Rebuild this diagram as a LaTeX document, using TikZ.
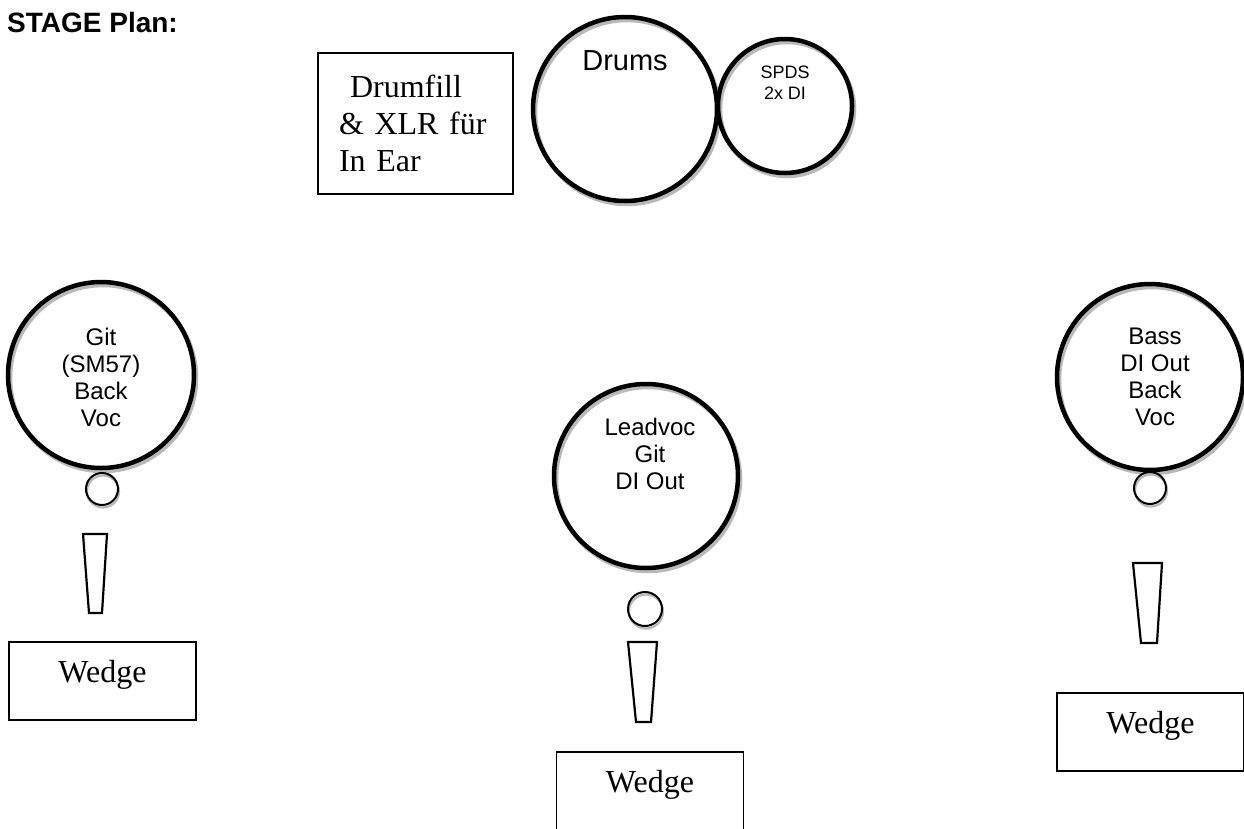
\documentclass[tikz,border=0pt]{standalone}
\usepackage{fontspec}
\setmainfont{Liberation Serif}
\newfontfamily\arialfont{Liberation Sans}
\begin{document}
\begin{tikzpicture}[x=1pt,y=-1pt,
  ring/.style={circle, draw=black, line width=4.5pt, inner sep=0pt},
  ringshadow/.style={draw=gray!55, line width=4.5pt},
  mic/.style={circle, draw=black, line width=2pt, inner sep=0pt},
  micshadow/.style={draw=gray!55, line width=2.2pt},
  stand/.style={draw=black, line width=2.2pt, line join=miter},
  wedgebox/.style={draw=black, line width=1.6pt, minimum width=187pt, minimum height=78pt, inner sep=0pt, font=\fontsize{32}{37}\selectfont, text height=22pt, text depth=20pt},
  circtext/.style={font=\arialfont\fontsize{24}{27}\selectfont, align=center, inner sep=0pt},
]
\useasboundingbox (0,0) rectangle (1244,828);
\clip (0,0) rectangle (1244,828);

% title
\node[anchor=base west, inner sep=0pt, font=\arialfont\bfseries\fontsize{28}{32}\selectfont] (title) at (7,32) {STAGE Plan:};

% drumfill box
\node[draw=black, line width=1.6pt, minimum height=141pt, text width=153pt, align=left, inner xsep=21pt, inner ysep=0pt, font=\fontsize{32}{37}\selectfont] (fill) at (415.5,123.5) {\hspace*{11pt}Drumfill\\\& XLR für\\In Ear};

% drums
\coordinate (cdrums) at (625,109);
\draw[ringshadow] (cdrums) ++(2,3) circle[radius=92];
\node[ring, minimum size=184pt, label={[circtext, font=\arialfont\fontsize{29}{33}\selectfont, yshift=48pt]center:Drums}] (drums) at (cdrums) {};

% SPDS
\coordinate (cspds) at (785,106);
\draw[ringshadow] (cspds) ++(2,3) circle[radius=67];
\node[ring, minimum size=134pt, label={[circtext, font=\arialfont\fontsize{18}{21}\selectfont, yshift=23pt]center:SPDS\\2x DI}] (spds) at (cspds) {};

% Git (left)
\coordinate (cgit) at (101,375);
\draw[ringshadow] (cgit) ++(2,3) circle[radius=93];
\node[ring, minimum size=186pt, label={[circtext, yshift=-2pt]center:Git\\(SM57)\\Back\\Voc}] (git) at (cgit) {};
\coordinate (cgitmic) at (102,489);
\draw[micshadow] (cgitmic) ++(1,2.5) circle[radius=16];
\node[mic, minimum size=32pt] (gitmic) at (cgitmic) {};
\draw[stand] (83,534) -- (107,534) -- (102,613) -- (89,613) -- cycle;
\node[wedgebox] (gitwedge) at (102.5,681) {Wedge};

% Lead (centre)
\coordinate (clead) at (646,476);
\draw[ringshadow] (clead) ++(2,3) circle[radius=92];
\node[ring, minimum size=184pt, label={[circtext, xshift=4pt, yshift=22pt]center:Leadvoc\\Git\\DI Out}] (lead) at (clead) {};
\coordinate (cleadmic) at (645,609);
\draw[micshadow] (cleadmic) ++(1,2.5) circle[radius=17];
\node[mic, minimum size=34pt] (leadmic) at (cleadmic) {};
\draw[stand] (628,642) -- (657,642) -- (651,722) -- (636,722) -- cycle;
\node[wedgebox] (leadwedge) at (650,791) {Wedge};

% Bass (right)
\coordinate (cbass) at (1150,377);
\draw[ringshadow] (cbass) ++(2,3) circle[radius=93];
\node[ring, minimum size=186pt, label={[circtext, xshift=5pt]center:Bass\\DI Out\\Back\\Voc}] (bass) at (cbass) {};
\coordinate (cbassmic) at (1150,488);
\draw[micshadow] (cbassmic) ++(1,2.5) circle[radius=16];
\node[mic, minimum size=32pt] (bassmic) at (cbassmic) {};
\draw[stand] (1133,563) -- (1162,563) -- (1157,643) -- (1141,643) -- cycle;
\node[wedgebox] (basswedge) at (1150.5,732) {Wedge};
\end{tikzpicture}
\end{document}
